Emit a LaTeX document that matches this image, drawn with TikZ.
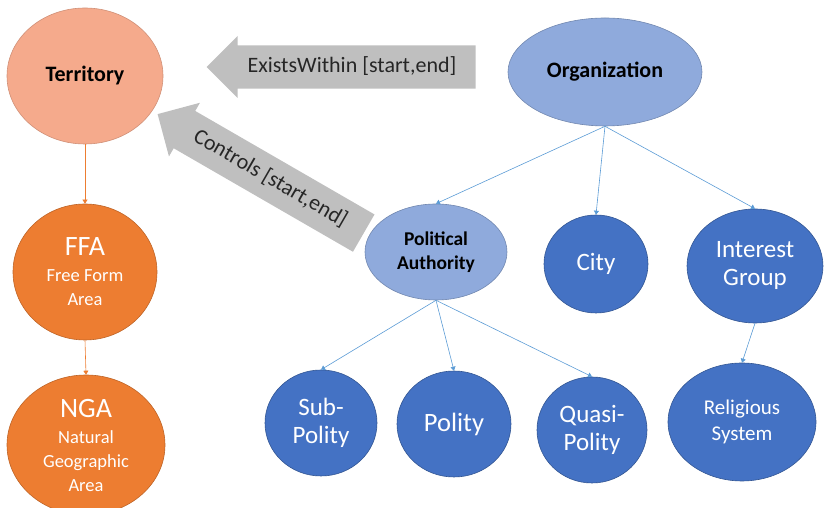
\documentclass[tikz,border=0pt]{standalone}
\usepackage{fontspec}
\setmainfont{Carlito}
\usetikzlibrary{shapes.geometric,shapes.arrows,arrows.meta}

\definecolor{terrfill}{RGB}{245,170,140}
\definecolor{areafill}{RGB}{237,125,49}
\definecolor{orgfill}{RGB}{143,170,220}
\definecolor{unitfill}{RGB}{68,114,196}
\definecolor{linkblue}{RGB}{91,155,213}
\definecolor{relgray}{RGB}{191,191,191}
\definecolor{reltext}{RGB}{38,38,38}

\begin{document}
\begin{tikzpicture}[x=1pt,y=1pt,align=center,
	link/.style={draw=linkblue,line width=0.6pt,-{Triangle[width=5pt,length=4pt]}},
	arealink/.style={draw=areafill,line width=0.6pt,-{Triangle[width=5pt,length=4pt]}},
	relation/.style={single arrow,shape border rotate=180,fill=relgray,text=reltext,
		font=\fontsize{22}{24}\selectfont,text height=15pt,text depth=4pt,
		inner ysep=6.5pt,inner xsep=2pt,minimum width=62}]

	\useasboundingbox (0,0) rectangle (831,508);

	% territory side
	\begin{scope}[every node/.style={ellipse,inner sep=0pt,line width=0.6pt}]
		\node[fill=terrfill,draw=terrfill!85!black,minimum width=156,minimum height=136,
			font=\bfseries\fontsize{22}{24}\selectfont] (territory) at (85,432) {Territory};
		\node[fill=areafill,draw=areafill!80!black,text=white,minimum width=144,minimum height=136,
			font=\fontsize{18.5}{24}\selectfont] (ffa) at (85,236)
			{{\fontsize{28}{30}\selectfont FFA}\\[2pt]Free Form\\Area};
		\node[fill=areafill,draw=areafill!80!black,text=white,minimum width=158,minimum height=140,
			font=\fontsize{18.5}{24}\selectfont] (nga) at (86,63)
			{{\fontsize{28}{30}\selectfont NGA}\\[2pt]Natural\\Geographic\\Area};
	\end{scope}

	% organization side
	\begin{scope}[every node/.style={ellipse,inner sep=0pt,line width=0.6pt}]
		\node[fill=orgfill,draw=orgfill!80!black,minimum width=194,minimum height=108,
			font=\bfseries\fontsize{22}{24}\selectfont] (organization) at (605,436) {Organization};
		\node[fill=orgfill,draw=orgfill!80!black,minimum width=142,minimum height=96,
			font=\bfseries\fontsize{19.5}{24}\selectfont] (authority) at (436,256) {Political\\Authority};
	\end{scope}

	\begin{scope}[every node/.style={ellipse,inner sep=0pt,line width=0.6pt,fill=unitfill,
			draw=unitfill!75!black,text=white,font=\fontsize{25}{28}\selectfont}]
		\node[minimum width=104,minimum height=98] (city) at (596,244) {City};
		\node[minimum width=136,minimum height=114] (interest) at (755,242) {Interest\\Group};
		\node[minimum width=112,minimum height=106] (subpolity) at (321,85) {Sub-\\Polity};
		\node[minimum width=114,minimum height=106,font=\fontsize{26.5}{28}\selectfont] (polity) at (454,84) {Polity};
		\node[minimum width=110,minimum height=106] (quasipolity) at (592,78) {Quasi-\\Polity};
		\node[minimum width=148,minimum height=118,font=\fontsize{21}{26}\selectfont] (religious) at (742,86) {Religious\\System};
	\end{scope}

	% relations
	\node[relation,minimum height=269] (existswithin) at (352,441) {ExistsWithin [start,end]};
	\node[relation,minimum height=238,rotate=-30] (controls) at (270,329) {Controls [start,end]};

	\draw[arealink] (territory.south) -- (ffa.north);
	\draw[arealink] (ffa.south) -- (nga.north);

	\draw[link] (organization.south) -- (authority.north);
	\draw[link] (organization.south) -- (city.north);
	\draw[link] (organization.south) -- (interest.north);
	\draw[link] (authority.south) -- (subpolity.north);
	\draw[link] (authority.south) -- (polity.north);
	\draw[link] (authority.south) -- (quasipolity.north);
	\draw[link] (interest.south) -- (religious.north);

\end{tikzpicture}
\end{document}
